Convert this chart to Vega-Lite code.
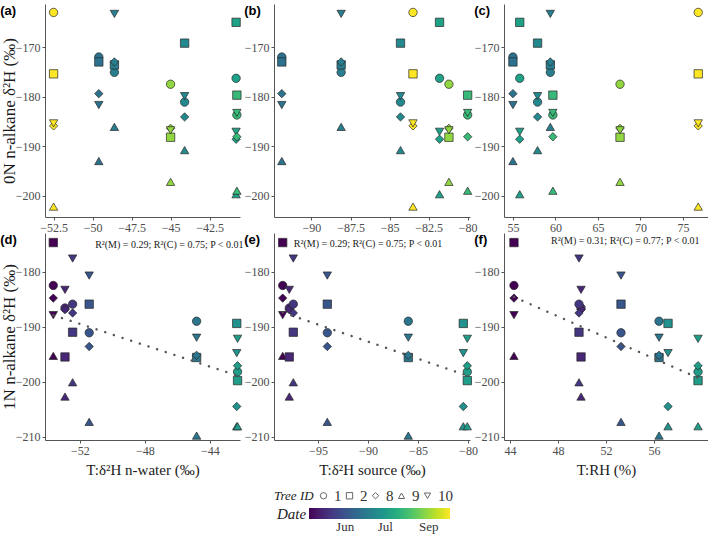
{
  "$schema": "https://vega.github.io/schema/vega-lite/v6.json",
  "padding": {"left": 0, "top": 4, "right": 0, "bottom": 0},
  "datasets": {
    "obs": [
      {"N": "0N", "tree": 1, "date": "2020-09-25", "nwater": -52.5, "source": -83.5, "rh": 76.8, "d2H": -163.0},
      {"N": "0N", "tree": 2, "date": "2020-09-25", "nwater": -52.5, "source": -83.5, "rh": 76.8, "d2H": -175.4},
      {"N": "0N", "tree": 8, "date": "2020-09-25", "nwater": -52.5, "source": -83.5, "rh": 76.8, "d2H": -185.9},
      {"N": "0N", "tree": 9, "date": "2020-09-25", "nwater": -52.5, "source": -83.5, "rh": 76.8, "d2H": -202.2},
      {"N": "0N", "tree": 10, "date": "2020-09-25", "nwater": -52.5, "source": -83.5, "rh": 76.8, "d2H": -185.4},
      {"N": "0N", "tree": 1, "date": "2020-07-10", "nwater": -49.6, "source": -91.9, "rh": 55.0, "d2H": -172.0},
      {"N": "0N", "tree": 2, "date": "2020-07-10", "nwater": -49.6, "source": -91.9, "rh": 55.0, "d2H": -173.0},
      {"N": "0N", "tree": 8, "date": "2020-07-10", "nwater": -49.6, "source": -91.9, "rh": 55.0, "d2H": -179.4},
      {"N": "0N", "tree": 9, "date": "2020-07-10", "nwater": -49.6, "source": -91.9, "rh": 55.0, "d2H": -193.0},
      {"N": "0N", "tree": 10, "date": "2020-07-10", "nwater": -49.6, "source": -91.9, "rh": 55.0, "d2H": -181.7},
      {"N": "0N", "tree": 1, "date": "2020-07-16", "nwater": -48.6, "source": -88.1, "rh": 59.4, "d2H": -175.1},
      {"N": "0N", "tree": 2, "date": "2020-07-16", "nwater": -48.6, "source": -88.1, "rh": 59.4, "d2H": -173.6},
      {"N": "0N", "tree": 8, "date": "2020-07-16", "nwater": -48.6, "source": -88.1, "rh": 59.4, "d2H": -173.0},
      {"N": "0N", "tree": 9, "date": "2020-07-16", "nwater": -48.6, "source": -88.1, "rh": 59.4, "d2H": -186.1},
      {"N": "0N", "tree": 10, "date": "2020-07-16", "nwater": -48.6, "source": -88.1, "rh": 59.4, "d2H": -163.3},
      {"N": "0N", "tree": 1, "date": "2020-09-05", "nwater": -45.0, "source": -81.2, "rh": 67.6, "d2H": -177.5},
      {"N": "0N", "tree": 2, "date": "2020-09-05", "nwater": -45.0, "source": -81.2, "rh": 67.6, "d2H": -188.2},
      {"N": "0N", "tree": 8, "date": "2020-09-05", "nwater": -45.0, "source": -81.2, "rh": 67.6, "d2H": -186.4},
      {"N": "0N", "tree": 9, "date": "2020-09-05", "nwater": -45.0, "source": -81.2, "rh": 67.6, "d2H": -197.2},
      {"N": "0N", "tree": 10, "date": "2020-09-05", "nwater": -45.0, "source": -81.2, "rh": 67.6, "d2H": -186.8},
      {"N": "0N", "tree": 1, "date": "2020-07-22", "nwater": -44.1, "source": -84.3, "rh": 57.9, "d2H": -181.1},
      {"N": "0N", "tree": 2, "date": "2020-07-22", "nwater": -44.1, "source": -84.3, "rh": 57.9, "d2H": -169.2},
      {"N": "0N", "tree": 8, "date": "2020-07-22", "nwater": -44.1, "source": -84.3, "rh": 57.9, "d2H": -184.1},
      {"N": "0N", "tree": 9, "date": "2020-07-22", "nwater": -44.1, "source": -84.3, "rh": 57.9, "d2H": -190.8},
      {"N": "0N", "tree": 10, "date": "2020-07-22", "nwater": -44.1, "source": -84.3, "rh": 57.9, "d2H": -179.9},
      {"N": "0N", "tree": 1, "date": "2020-08-03", "nwater": -40.8, "source": -81.8, "rh": 55.8, "d2H": -176.3},
      {"N": "0N", "tree": 2, "date": "2020-08-03", "nwater": -40.8, "source": -81.8, "rh": 55.8, "d2H": -165.0},
      {"N": "0N", "tree": 8, "date": "2020-08-03", "nwater": -40.8, "source": -81.8, "rh": 55.8, "d2H": -188.6},
      {"N": "0N", "tree": 9, "date": "2020-08-03", "nwater": -40.8, "source": -81.8, "rh": 55.8, "d2H": -199.7},
      {"N": "0N", "tree": 10, "date": "2020-08-03", "nwater": -40.8, "source": -81.8, "rh": 55.8, "d2H": -187.1},
      {"N": "0N", "tree": 1, "date": "2020-08-16", "nwater": -40.75, "source": -80.0, "rh": 59.7, "d2H": -183.7},
      {"N": "0N", "tree": 2, "date": "2020-08-16", "nwater": -40.75, "source": -80.0, "rh": 59.7, "d2H": -179.7},
      {"N": "0N", "tree": 8, "date": "2020-08-16", "nwater": -40.75, "source": -80.0, "rh": 59.7, "d2H": -188.1},
      {"N": "0N", "tree": 9, "date": "2020-08-16", "nwater": -40.75, "source": -80.0, "rh": 59.7, "d2H": -199.0},
      {"N": "0N", "tree": 10, "date": "2020-08-16", "nwater": -40.75, "source": -80.0, "rh": 59.7, "d2H": -183.3},
      {"N": "1N", "tree": 1, "date": "2020-05-25", "nwater": -53.64, "source": -98.53, "rh": 44.33, "d2H": -182.5},
      {"N": "1N", "tree": 2, "date": "2020-05-25", "nwater": -53.64, "source": -98.53, "rh": 44.33, "d2H": -174.7},
      {"N": "1N", "tree": 8, "date": "2020-05-25", "nwater": -53.64, "source": -98.53, "rh": 44.33, "d2H": -184.8},
      {"N": "1N", "tree": 9, "date": "2020-05-25", "nwater": -53.64, "source": -98.53, "rh": 44.33, "d2H": -195.3},
      {"N": "1N", "tree": 10, "date": "2020-05-25", "nwater": -53.64, "source": -98.53, "rh": 44.33, "d2H": -187.9},
      {"N": "1N", "tree": 1, "date": "2020-06-07", "nwater": -52.92, "source": -97.87, "rh": 49.92, "d2H": -186.6},
      {"N": "1N", "tree": 2, "date": "2020-06-07", "nwater": -52.92, "source": -97.87, "rh": 49.92, "d2H": -195.5},
      {"N": "1N", "tree": 8, "date": "2020-06-07", "nwater": -52.92, "source": -97.87, "rh": 49.92, "d2H": -186.9},
      {"N": "1N", "tree": 9, "date": "2020-06-07", "nwater": -52.92, "source": -97.87, "rh": 49.92, "d2H": -202.7},
      {"N": "1N", "tree": 10, "date": "2020-06-07", "nwater": -52.92, "source": -97.87, "rh": 49.92, "d2H": -183.3},
      {"N": "1N", "tree": 1, "date": "2020-06-13", "nwater": -52.45, "source": -97.47, "rh": 49.75, "d2H": -185.9},
      {"N": "1N", "tree": 2, "date": "2020-06-13", "nwater": -52.45, "source": -97.47, "rh": 49.75, "d2H": -191.0},
      {"N": "1N", "tree": 8, "date": "2020-06-13", "nwater": -52.45, "source": -97.47, "rh": 49.75, "d2H": -187.5},
      {"N": "1N", "tree": 9, "date": "2020-06-13", "nwater": -52.45, "source": -97.47, "rh": 49.75, "d2H": -200.1},
      {"N": "1N", "tree": 10, "date": "2020-06-13", "nwater": -52.45, "source": -97.47, "rh": 49.75, "d2H": -177.6},
      {"N": "1N", "tree": 1, "date": "2020-06-27", "nwater": -51.43, "source": -94.07, "rh": 53.25, "d2H": -191.1},
      {"N": "1N", "tree": 2, "date": "2020-06-27", "nwater": -51.43, "source": -94.07, "rh": 53.25, "d2H": -185.9},
      {"N": "1N", "tree": 8, "date": "2020-06-27", "nwater": -51.43, "source": -94.07, "rh": 53.25, "d2H": -193.6},
      {"N": "1N", "tree": 9, "date": "2020-06-27", "nwater": -51.43, "source": -94.07, "rh": 53.25, "d2H": -207.3},
      {"N": "1N", "tree": 10, "date": "2020-06-27", "nwater": -51.43, "source": -94.07, "rh": 53.25, "d2H": -180.7},
      {"N": "1N", "tree": 1, "date": "2020-07-12", "nwater": -44.82, "source": -85.97, "rh": 56.42, "d2H": -189.0},
      {"N": "1N", "tree": 2, "date": "2020-07-12", "nwater": -44.82, "source": -85.97, "rh": 56.42, "d2H": -195.6},
      {"N": "1N", "tree": 8, "date": "2020-07-12", "nwater": -44.82, "source": -85.97, "rh": 56.42, "d2H": -195.2},
      {"N": "1N", "tree": 9, "date": "2020-07-12", "nwater": -44.82, "source": -85.97, "rh": 56.42, "d2H": -209.8},
      {"N": "1N", "tree": 10, "date": "2020-07-12", "nwater": -44.82, "source": -85.97, "rh": 56.42, "d2H": -192.0},
      {"N": "1N", "tree": 2, "date": "2020-07-26", "nwater": -42.35, "source": -80.47, "rh": 57.17, "d2H": -189.4},
      {"N": "1N", "tree": 8, "date": "2020-07-26", "nwater": -42.35, "source": -80.47, "rh": 57.17, "d2H": -204.5},
      {"N": "1N", "tree": 9, "date": "2020-07-26", "nwater": -42.35, "source": -80.47, "rh": 57.17, "d2H": -208.1},
      {"N": "1N", "tree": 10, "date": "2020-07-26", "nwater": -42.35, "source": -80.47, "rh": 57.17, "d2H": -194.8},
      {"N": "1N", "tree": 1, "date": "2020-08-01", "nwater": -42.3, "source": -80.07, "rh": 59.67, "d2H": -198.2},
      {"N": "1N", "tree": 2, "date": "2020-08-01", "nwater": -42.3, "source": -80.07, "rh": 59.67, "d2H": -199.8},
      {"N": "1N", "tree": 8, "date": "2020-08-01", "nwater": -42.3, "source": -80.07, "rh": 59.67, "d2H": -197.1},
      {"N": "1N", "tree": 9, "date": "2020-08-01", "nwater": -42.3, "source": -80.07, "rh": 59.67, "d2H": -208.1},
      {"N": "1N", "tree": 10, "date": "2020-08-01", "nwater": -42.3, "source": -80.07, "rh": 59.67, "d2H": -192.2}
    ],
    "fit": [
      {"panel": "d", "x": -53.64, "y": -187.9},
      {"panel": "d", "x": -42.3, "y": -198.9},
      {"panel": "e", "x": -98.53, "y": -187.4},
      {"panel": "e", "x": -80.07, "y": -198.9},
      {"panel": "f", "x": 44.33, "y": -184.6},
      {"panel": "f", "x": 59.67, "y": -199.3}
    ]
  },
  "columns": 3,
  "bounds": "flush",
  "align": "each",
  "spacing": {"row": 16, "column": 34},
  "resolve": {"scale": {"color": "shared", "shape": "shared", "x": "independent", "y": "independent"}, "legend": {"color": "shared", "shape": "shared"}},
  "concat": [
    {
      "width": 195, "height": 213,
      "title": {"text": "(a)", "dy": 18},
      "data": {"name": "obs", "format": {"parse": {"date": "date"}}},
      "transform": [{"filter": "datum.N === '0N'"}],
      "mark": {"type": "point", "filled": true, "size": 70, "stroke": "#262626", "strokeWidth": 0.7, "opacity": 1},
      "encoding": {
        "x": {"field": "nwater", "type": "quantitative", "scale": {"domain": [-53.05, -40.55], "nice": false, "zero": false}, "axis": {"values": [-52.5, -50, -47.5, -45, -42.5], "title": null}},
        "y": {"field": "d2H", "type": "quantitative", "scale": {"domain": [-204.3, -161.3], "nice": false, "zero": false}, "axis": {"values": [-200, -190, -180, -170], "title": "0N  n-alkane δ²H (‰)", "titlePadding": -3}},
        "color": {"field": "date", "type": "quantitative",
          "scale": {"scheme": "viridis", "nice": false, "zero": false, "domain": [1590364800000, 1600992000000]},
          "legend": {"orient": "none", "legendX": 232, "legendY": 504, "direction": "horizontal", "titleOrient": "left", "titleAnchor": "middle", "title": "Date",
            "labelExpr": "utcFormat(datum.value, '%b')",
            "values": [1593086400000, 1596110400000, 1599393600000],
            "gradientLength": 141, "gradientThickness": 11, "gradientStrokeWidth": 0,
            "titleFont": "Liberation Serif", "titleFontStyle": "italic", "titleFontWeight": "normal", "titleFontSize": 15, "titleColor": "#222", "titlePadding": 2,
            "labelFont": "Liberation Serif", "labelFontSize": 13, "labelColor": "#333", "labelOverlap": false}},
        "shape": {"field": "tree", "type": "nominal", "scale": {"domain": [1, 2, 8, 9, 10], "range": ["circle", "square", "diamond", "triangle-up", "triangle-down"]},
          "legend": {"orient": "none", "legendX": 229, "legendY": 484, "direction": "horizontal", "titleOrient": "left", "title": "Tree ID",
            "titleFont": "Liberation Serif", "titleFontStyle": "italic", "titleFontWeight": "normal", "titleFontSize": 13, "titleColor": "#222", "titlePadding": 2,
            "labelFont": "Liberation Serif", "labelFontSize": 15, "labelColor": "#333", "labelOffset": 3, "columnPadding": 0,
            "symbolSize": 40, "symbolFillColor": "white", "symbolStrokeColor": "#666", "symbolStrokeWidth": 1}}
      }
    },
    {
      "width": 196, "height": 213,
      "title": {"text": "(b)", "dy": 18},
      "data": {"name": "obs", "format": {"parse": {"date": "date"}}},
      "transform": [{"filter": "datum.N === '0N'"}],
      "mark": {"type": "point", "filled": true, "size": 70, "stroke": "#262626", "strokeWidth": 0.7, "opacity": 1},
      "encoding": {
        "x": {"field": "source", "type": "quantitative", "scale": {"domain": [-92.4, -79.85], "nice": false, "zero": false}, "axis": {"values": [-90, -87.5, -85, -82.5, -80], "title": null}},
        "y": {"field": "d2H", "type": "quantitative", "scale": {"domain": [-204.3, -161.3], "nice": false, "zero": false}, "axis": {"values": [-200, -190, -180, -170], "title": null}},
        "color": {"field": "date", "type": "quantitative"},
        "shape": {"field": "tree", "type": "nominal"}
      }
    },
    {
      "width": 204, "height": 213,
      "title": {"text": "(c)", "dy": 18},
      "data": {"name": "obs", "format": {"parse": {"date": "date"}}},
      "transform": [{"filter": "datum.N === '0N'"}],
      "mark": {"type": "point", "filled": true, "size": 70, "stroke": "#262626", "strokeWidth": 0.7, "opacity": 1},
      "encoding": {
        "x": {"field": "rh", "type": "quantitative", "scale": {"domain": [53.95, 77.95], "nice": false, "zero": false}, "axis": {"values": [55, 60, 65, 70, 75], "title": null}},
        "y": {"field": "d2H", "type": "quantitative", "scale": {"domain": [-204.3, -161.3], "nice": false, "zero": false}, "axis": {"values": [-200, -190, -180, -170], "title": null}},
        "color": {"field": "date", "type": "quantitative"},
        "shape": {"field": "tree", "type": "nominal"}
      }
    },
    {
      "width": 195, "height": 207,
      "title": {"text": "(d)", "dy": 18},
      "layer": [
        {
          "data": {"name": "obs", "format": {"parse": {"date": "date"}}},
          "transform": [{"filter": "datum.N === '1N'"}],
          "mark": {"type": "point", "filled": true, "size": 70, "stroke": "#262626", "strokeWidth": 0.7, "opacity": 1},
          "encoding": {
            "x": {"field": "nwater", "type": "quantitative", "scale": {"domain": [-54.15, -42.15], "nice": false, "zero": false}, "axis": {"values": [-52, -48, -44], "title": "T:δ²H n-water (‰)", "titlePadding": 6}},
            "y": {"field": "d2H", "type": "quantitative", "scale": {"domain": [-210.6, -172.96], "nice": false, "zero": false}, "axis": {"values": [-210, -200, -190, -180], "title": "1N  n-alkane δ²H (‰)", "titlePadding": -3}},
            "color": {"field": "date", "type": "quantitative"},
            "shape": {"field": "tree", "type": "nominal"}
          }
        },
        {
          "data": {"name": "fit"},
          "transform": [{"filter": "datum.panel === 'd'"}],
          "mark": {"type": "line", "color": "#555555", "strokeWidth": 2.4, "strokeDash": [0.1, 9], "strokeCap": "round"},
          "encoding": {"x": {"field": "x", "type": "quantitative"}, "y": {"field": "y", "type": "quantitative"}}
        },
        {
          "data": {"values": [{}]},
          "mark": {"type": "text", "text": "R²(M) = 0.29; R²(C) = 0.75; P < 0.01", "font": "Liberation Serif", "fontSize": 10, "color": "#1a1a1a"},
          "encoding": {"x": {"datum": -46.5}, "y": {"datum": -175.1}}
        }
      ]
    },
    {
      "width": 196, "height": 207,
      "title": {"text": "(e)", "dy": 18},
      "layer": [
        {
          "data": {"name": "obs", "format": {"parse": {"date": "date"}}},
          "transform": [{"filter": "datum.N === '1N'"}],
          "mark": {"type": "point", "filled": true, "size": 70, "stroke": "#262626", "strokeWidth": 0.7, "opacity": 1},
          "encoding": {
            "x": {"field": "source", "type": "quantitative", "scale": {"domain": [-99.4, -79.8], "nice": false, "zero": false}, "axis": {"values": [-95, -90, -85, -80], "title": "T:δ²H source (‰)", "titlePadding": 6}},
            "y": {"field": "d2H", "type": "quantitative", "scale": {"domain": [-210.6, -172.96], "nice": false, "zero": false}, "axis": {"values": [-210, -200, -190, -180], "title": null}},
            "color": {"field": "date", "type": "quantitative"},
            "shape": {"field": "tree", "type": "nominal"}
          }
        },
        {
          "data": {"name": "fit"},
          "transform": [{"filter": "datum.panel === 'e'"}],
          "mark": {"type": "line", "color": "#555555", "strokeWidth": 2.4, "strokeDash": [0.1, 9], "strokeCap": "round"},
          "encoding": {"x": {"field": "x", "type": "quantitative"}, "y": {"field": "y", "type": "quantitative"}}
        },
        {
          "data": {"values": [{}]},
          "mark": {"type": "text", "text": "R²(M) = 0.29; R²(C) = 0.75; P < 0.01", "font": "Liberation Serif", "fontSize": 10, "color": "#1a1a1a"},
          "encoding": {"x": {"datum": -90}, "y": {"datum": -175.0}}
        }
      ]
    },
    {
      "width": 204, "height": 207,
      "title": {"text": "(f)", "dy": 18},
      "layer": [
        {
          "data": {"name": "obs", "format": {"parse": {"date": "date"}}},
          "transform": [{"filter": "datum.N === '1N'"}],
          "mark": {"type": "point", "filled": true, "size": 70, "stroke": "#262626", "strokeWidth": 0.7, "opacity": 1},
          "encoding": {
            "x": {"field": "rh", "type": "quantitative", "scale": {"domain": [43.5, 60.5], "nice": false, "zero": false}, "axis": {"values": [44, 48, 52, 56], "title": "T:RH (%)", "titlePadding": 6}},
            "y": {"field": "d2H", "type": "quantitative", "scale": {"domain": [-210.6, -172.96], "nice": false, "zero": false}, "axis": {"values": [-210, -200, -190, -180], "title": null}},
            "color": {"field": "date", "type": "quantitative"},
            "shape": {"field": "tree", "type": "nominal"}
          }
        },
        {
          "data": {"name": "fit"},
          "transform": [{"filter": "datum.panel === 'f'"}],
          "mark": {"type": "line", "color": "#555555", "strokeWidth": 2.4, "strokeDash": [0.1, 9], "strokeCap": "round"},
          "encoding": {"x": {"field": "x", "type": "quantitative"}, "y": {"field": "y", "type": "quantitative"}}
        },
        {
          "data": {"values": [{}]},
          "mark": {"type": "text", "text": "R²(M) = 0.31; R²(C) = 0.77; P < 0.01", "font": "Liberation Serif", "fontSize": 10, "color": "#1a1a1a"},
          "encoding": {"x": {"datum": 53.6}, "y": {"datum": -174.5}}
        }
      ]
    }
  ],
  "config": {
    "font": "Liberation Serif",
    "view": {"stroke": null},
    "axis": {"grid": false, "domainColor": "#555555", "domainWidth": 1, "tickColor": "#555555", "tickSize": 3, "tickWidth": 1,
      "labelColor": "#4d4d4d", "labelFontSize": 12, "labelFont": "Liberation Serif", "labelFlush": false, "labelOverlap": false, "labelPadding": 2, "format": ".1~f",
      "titleFont": "Liberation Serif", "titleFontWeight": "normal", "titleColor": "#1a1a1a"},
    "axisY": {"titleFontSize": 17},
    "axisX": {"titleFontSize": 15},
    "title": {"font": "Liberation Sans", "fontWeight": "bold", "fontSize": 13, "anchor": "start", "frame": "bounds", "color": "#000000", "offset": 0}
  }
}
